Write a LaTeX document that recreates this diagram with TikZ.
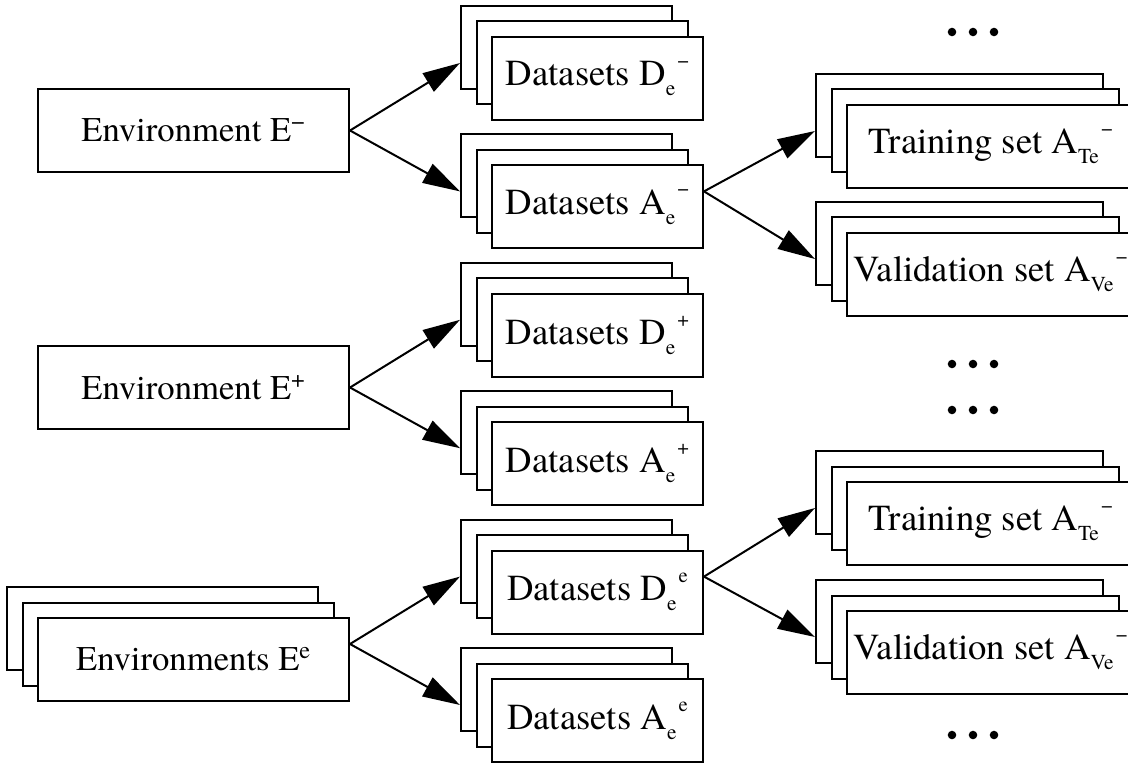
\documentclass[tikz,border=0pt]{standalone}
\usepackage{fontspec}
\setmainfont{texgyretermes}[Extension=.otf, UprightFont=*-regular, BoldFont=*-bold, ItalicFont=*-italic, BoldItalicFont=*-bolditalic]
\usetikzlibrary{arrows.meta}
\tikzset{
  box/.style={draw, fill=white, line width=1.5pt, inner sep=0pt,
    minimum height=83*0.75pt, font=\fontsize{27.5}{33}\selectfont},
  envbox/.style={box, font=\fontsize{26}{31}\selectfont},
  arr/.style={line width=1.5pt, -{Triangle[length=28pt,width=16pt]}},
  dotmark/.style={fill=black}
}
\newcommand{\sbx}[1]{\raisebox{-0.27em}{\fontsize{16}{16}\selectfont #1}}
\newcommand{\spx}[1]{\raisebox{0.5em}{\fontsize{15.5}{16}\selectfont #1}}
\newcommand{\sbsp}[2]{\sbx{#1}\kern0.06em\spx{#2}}
% name, x, y (front centre, px), width (px), text, style
\newcommand{\stk}[6][box]{%
  \node[#1, minimum width=#5*0.75pt] (#2b) at ({#3-31},{#4-31}) {};
  \node[#1, minimum width=#5*0.75pt] (#2m) at ({#3-15.5},{#4-15.5}) {};
  \node[#1, minimum width=#5*0.75pt] (#2) at (#3,#4) {#6};}
\begin{document}
\begin{tikzpicture}[x=0.75pt,y=-0.75pt]
\useasboundingbox (0,0) rectangle (1128,763);

% environments
\node[envbox, minimum width=311*0.75pt] (em) at (193.5,130.5) {Environment E\textsuperscript{−}};
\node[envbox, minimum width=311*0.75pt] (ep) at (193.5,387.5) {Environment E\textsuperscript{+}};
\stk[envbox]{ee}{193.5}{659.5}{311}{Environments E\textsuperscript{e}}

% datasets
\stk{dm}{597.5}{78.5}{211}{Datasets D\sbsp{e}{−}}
\stk{am}{597.5}{206.9}{211}{Datasets A\sbsp{e}{−}}
\stk{dp}{597.5}{335.3}{211}{Datasets D\sbsp{e}{+}}
\stk{ap}{597.5}{463.7}{211}{Datasets A\sbsp{e}{+}}
\stk{de}{597.5}{592.1}{211}{Datasets D\sbsp{e}{e}}
\stk{ae}{597.5}{720.5}{211}{Datasets A\sbsp{e}{e}}

% training / validation
\stk{ta}{990.5}{146.5}{287}{Training set A\sbsp{Te}{−}}
\stk{va}{990.5}{274.5}{287}{Validation set A\sbsp{Ve}{−}}
\stk{tb}{990.5}{523.5}{287}{Training set A\sbsp{Te}{−}}
\stk{vb}{990.5}{652.5}{287}{Validation set A\sbsp{Ve}{−}}

% connectors
\draw[arr] (em.east) -- (dmb.west |- dmm.center);
\draw[arr] (em.east) -- (amb.west |- amm.center);
\draw[arr] (ep.east) -- (dpb.west |- dpm.center);
\draw[arr] (ep.east) -- (apb.west |- apm.center);
\draw[arr] (ee.east |- eem.center) -- (deb.west |- dem.center);
\draw[arr] (ee.east |- eem.center) -- (aeb.west |- aem.center);
\draw[arr] (am.east |- amm.center) -- (tab.west |- tam.center);
\draw[arr] (am.east |- amm.center) -- (vab.west |- vam.center);
\draw[arr] (de.east |- dem.center) -- (tbb.west |- tbm.center);
\draw[arr] (de.east |- dem.center) -- (vbb.west |- vbm.center);

% ellipses
\foreach \yy in {32,364,410,735}{
  \foreach \xx in {952,973,994}{
    \fill[dotmark] (\xx,\yy) circle (3.2pt);
  }
}
\end{tikzpicture}
\end{document}
